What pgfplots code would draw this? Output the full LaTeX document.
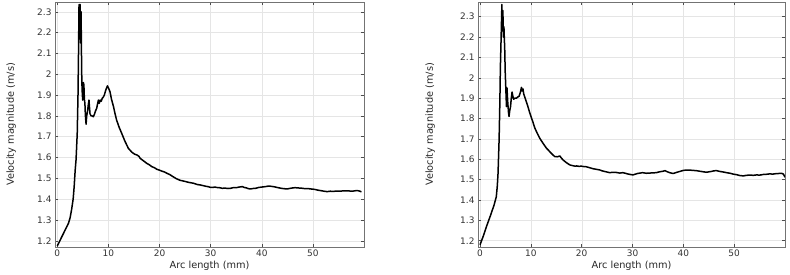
\documentclass[border=0pt]{standalone}
\usepackage{fontspec}
\setmainfont{DejaVu Sans}
\usepackage{pgfplots}
\pgfplotsset{compat=1.18}

\pgfplotstableread{
x v
0 1.175
0.5 1.20
1.0 1.225
1.5 1.25
1.84 1.267
2.2 1.285
2.5 1.31
2.8 1.35
3.1 1.40
3.3 1.46
3.5 1.54
3.67 1.59
3.9 1.716
4.05 1.90
4.15 2.10
4.25 2.335
4.3 2.25
4.35 2.20
4.4 2.30
4.45 2.335
4.5 2.22
4.55 2.15
4.6 2.28
4.65 2.30
4.75 2.05
4.8 1.965
4.9 1.90
4.98 1.876
5.1 1.96
5.2 1.95
5.3 1.88
5.4 1.86
5.5 1.80
5.63 1.76
5.75 1.80
5.9 1.82
6.05 1.85
6.2 1.876
6.3 1.84
6.4 1.81
6.6 1.80
6.8 1.80
7.06 1.796
7.3 1.81
7.5 1.825
7.7 1.836
7.9 1.86
8.04 1.876
8.2 1.86
8.4 1.876
8.6 1.87
8.8 1.885
9.0 1.89
9.2 1.90
9.5 1.925
9.8 1.944
10.0 1.935
10.3 1.917
10.6 1.88
11.0 1.844
11.3 1.81
11.6 1.78
12.1 1.745
12.6 1.716
13.2 1.68
13.9 1.644
14.6 1.625
15.2 1.615
15.6 1.612
16.0 1.605
16.2 1.596
16.8 1.585
17.5 1.572
18.0 1.565
18.5 1.556
19.0 1.551
19.5 1.543
20.0 1.539
20.5 1.534
21.0 1.530
21.45 1.524
22.0 1.518
22.5 1.510
23.3 1.498
24.06 1.49
24.5 1.488
25.0 1.485
25.8 1.480
26.7 1.476
27.4 1.470
28 1.468
28.5 1.465
29 1.462
29.5 1.460
29.9 1.457
30.4 1.456
30.8 1.458
31.2 1.456
31.7 1.455
32.3 1.452
32.8 1.453
33.4 1.451
33.9 1.452
34.4 1.455
35.0 1.455
35.6 1.458
36.2 1.46
36.6 1.456
37.0 1.454
37.4 1.450
37.8 1.449
38.3 1.451
38.8 1.452
39.4 1.456
40.0 1.458
40.7 1.460
41.4 1.463
42.0 1.461
42.5 1.459
43.2 1.455
43.8 1.452
44.4 1.450
45.0 1.449
45.8 1.453
46.5 1.455
47.0 1.454
47.5 1.453
48.0 1.452
48.5 1.450
49.0 1.451
49.5 1.449
50.0 1.448
50.5 1.446
51.0 1.443
51.5 1.441
52.2 1.438
52.8 1.436
53.4 1.438
54.0 1.437
54.6 1.439
55.3 1.438
56.0 1.440
56.7 1.44
57.2 1.439
57.7 1.438
58.2 1.440
58.7 1.441
59.1 1.439
59.5 1.435
}\leftdata

\pgfplotstableread{
x v
0 1.18
0.6 1.22
1.26 1.269
2.0 1.32
2.76 1.375
3.2 1.416
3.4 1.47
3.54 1.53
3.75 1.695
3.9 1.88
4.0 2.05
4.15 2.20
4.3 2.36
4.35 2.28
4.4 2.30
4.45 2.25
4.5 2.33
4.55 2.24
4.6 2.20
4.7 2.25
4.86 2.137
4.95 2.03
5.06 1.956
5.2 1.858
5.3 1.95
5.45 1.88
5.6 1.83
5.7 1.81
5.85 1.84
6.0 1.858
6.15 1.90
6.3 1.93
6.45 1.91
6.6 1.895
6.9 1.90
7.16 1.90
7.4 1.905
7.7 1.91
7.95 1.93
8.15 1.953
8.3 1.935
8.45 1.945
8.6 1.92
9.0 1.89
9.4 1.86
9.8 1.826
10.3 1.79
10.8 1.752
11.3 1.725
11.75 1.703
12.4 1.678
13.07 1.654
13.5 1.643
13.9 1.632
14.3 1.622
14.7 1.613
15.2 1.612
15.7 1.616
16.0 1.606
16.35 1.596
17.0 1.583
17.66 1.572
18.3 1.568
18.7 1.566
19 1.567
19.5 1.565
19.9 1.566
20.4 1.564
20.9 1.563
21.6 1.558
22.3 1.553
23.0 1.550
23.6 1.547
24.0 1.543
24.5 1.540
25.0 1.537
25.5 1.534
26.2 1.536
26.8 1.535
27.5 1.532
28.1 1.534
28.6 1.531
29.0 1.528
29.6 1.525
30.1 1.523
30.6 1.527
31.0 1.530
31.5 1.532
32.0 1.534
32.7 1.531
33.3 1.532
34.0 1.533
34.7 1.534
35.1 1.537
35.5 1.539
36.0 1.541
36.4 1.544
36.8 1.539
37.2 1.535
37.6 1.532
38.0 1.530
38.6 1.535
39.3 1.540
40.0 1.545
40.6 1.547
41.0 1.547
41.5 1.546
42.0 1.545
42.5 1.544
43.0 1.542
43.5 1.540
44.0 1.538
44.6 1.536
45.0 1.538
45.5 1.540
46.0 1.543
46.5 1.544
47.2 1.540
47.9 1.537
48.5 1.534
49.2 1.531
49.8 1.527
50.5 1.524
51.1 1.520
51.8 1.518
52.4 1.521
53.1 1.522
53.8 1.521
54.4 1.523
55.0 1.522
55.7 1.525
56.3 1.526
57.0 1.528
57.6 1.527
58.2 1.529
58.8 1.530
59.3 1.531
59.7 1.527
60.0 1.511
}\rightdata

\pgfplotsset{
  velstyle/.style={
    scale only axis,
    width=308bp, height=245bp,
    xmax=60,
    xtick={0,10,...,50},
    ytick={1.2,1.3,...,2.3},
    yticklabel style={/pgf/number format/fixed, /pgf/number format/precision=1},
    tick align=inside,
    major tick length=3bp,
    tick style={black!70, line width=0.5bp},
    axis line style={black!55, line width=0.6bp},
    grid=major,
    grid style={black!10, line width=0.4bp},
    /pgf/number format/assume math mode=true,
    tick label style={font=\fontsize{9}{10}\selectfont, text=black!80},
    label style={font=\fontsize{9.8}{11}\selectfont, text=black!85},
    xlabel={Arc length (mm)},
    ylabel={Velocity magnitude (m/s)},
    xlabel style={at={(axis description cs:0.5,-0.075)}, anchor=center},
    xticklabel style={yshift=1bp},
    clip=true,
  }
}

\begin{document}
\begin{tikzpicture}[x=1bp,y=1bp]
\useasboundingbox (0,0) rectangle (790,274);
\begin{axis}[velstyle, at={(55bp,27bp)}, anchor=south west,
  width=309bp,
  xmin=-0.45, ymin=1.17, ymax=2.347,
  ylabel style={at={(axis description cs:-0.142,0.5)}, anchor=center}]
\addplot[black, line width=1.5bp, line join=round] table[x=x, y=v] {\leftdata};
\end{axis}
\begin{axis}[velstyle, at={(478bp,27bp)}, anchor=south west,
  width=307bp,
  xmin=-0.4, ymin=1.169, ymax=2.372,
  ylabel style={at={(axis description cs:-0.156,0.5)}, anchor=center}]
\addplot[black, line width=1.5bp, line join=round] table[x=x, y=v] {\rightdata};
\end{axis}
\end{tikzpicture}
\end{document}
